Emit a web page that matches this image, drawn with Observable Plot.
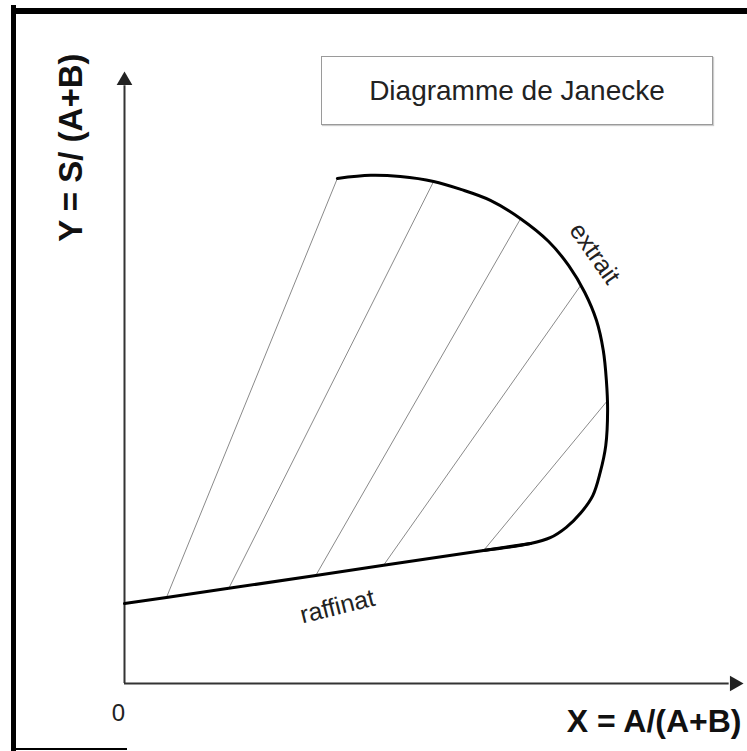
<!DOCTYPE html>
<html>
<head>
<meta charset="utf-8">
<script src="https://cdn.jsdelivr.net/npm/d3@7"></script>
<script src="https://cdn.jsdelivr.net/npm/@observablehq/plot@0.6"></script>
<style>
  html, body { margin: 0; padding: 0; background: #fff; }
  #wrap { position: relative; width: 747px; height: 751px; overflow: hidden; font-family: "Liberation Sans", Arial, sans-serif; }
  #wrap svg { position: absolute; left: 0; top: 0; }
  .frameL { position: absolute; left: 11px; top: 5px; width: 5px; height: 746px; background: #000; }
  .frameT { position: absolute; left: 11px; top: 8px; width: 736px; height: 6px; background: #000; }
  .frameB { position: absolute; left: 12px; top: 748px; width: 115px; height: 2px; background: #000; }
  .titlebox { position: absolute; left: 321px; top: 56px; width: 390px; height: 67px; border: 1.5px solid #9a9a9a;
              box-shadow: 1px 1px 1px #ccc; display: flex; align-items: center; justify-content: center;
              font-size: 28px; color: #222; }
</style>
</head>
<body>
<div id="wrap">
  <div class="frameL"></div>
  <div class="frameT"></div>
  <div class="frameB"></div>
  <div class="titlebox">Diagramme de Janecke</div>
</div>
<script>
// Raffinat branch (straight line), X = A/(A+B), Y = S/(A+B)
const raffinatX = [0, 0.068, 0.169, 0.310, 0.420, 0.582, 0.658];
const raffinatY = [0.131, 0.141, 0.156, 0.177, 0.194, 0.218, 0.2295];

// Curved envelope joining raffinat to extrait
const envelopeX = [0.420, 0.582, 0.658, 0.690, 0.716, 0.739, 0.759, 0.771, 0.780, 0.783, 0.781, 0.776, 0.765, 0.746, 0.720, 0.687, 0.642, 0.593, 0.545, 0.501, 0.447, 0.399, 0.345];
const envelopeY = [0.194, 0.218, 0.2295, 0.239, 0.256, 0.279, 0.308, 0.346, 0.390, 0.448, 0.497, 0.546, 0.595, 0.641, 0.685, 0.725, 0.762, 0.792, 0.810, 0.823, 0.831, 0.833, 0.828];

// Tie lines: raffinat end (x1,y1) -> extrait end (x2,y2)
const tieX1 = [0.068, 0.169, 0.310, 0.420, 0.582];
const tieY1 = [0.141, 0.156, 0.177, 0.194, 0.218];
const tieX2 = [0.345, 0.501, 0.642, 0.739, 0.783];
const tieY2 = [0.828, 0.823, 0.762, 0.652, 0.464];

// Curve labels
const labelText = ["extrait", "raffinat"];
const labelX = [0.762, 0.345];
const labelY = [0.705, 0.126];
const labelAngle = [55, -14];

const raffinat = raffinatX.map((x, i) => ({x, y: raffinatY[i]}));
const envelope = envelopeX.map((x, i) => ({x, y: envelopeY[i]}));
const ties = tieX1.map((x1, i) => ({x1, y1: tieY1[i], x2: tieX2[i], y2: tieY2[i]}));

const chart = Plot.plot({
  width: 747,
  height: 751,
  margin: 0,
  x: {domain: [0, 1], range: [124, 741], axis: null},
  y: {domain: [0, 1], range: [683, 73], axis: null},
  style: {background: "transparent", fontFamily: "Liberation Sans, Arial, sans-serif"},
  marks: [
    // axes
    Plot.ruleX([0], {y1: 0, y2: 0.98, stroke: "#333", strokeWidth: 2}),
    Plot.ruleY([0], {x1: 0, x2: 0.98, stroke: "#333", strokeWidth: 2}),
    Plot.dot([{x: 0, y: 1}], {x: "x", y: "y", symbol: "triangle2", r: 7.5, fill: "#222", stroke: "none", dy: 7}),
    Plot.dot([{x: 1, y: 0}], {x: "x", y: "y", symbol: "triangle2", r: 7.5, fill: "#222", stroke: "none", dx: -7, rotate: 90}),
    // tie lines
    Plot.link(ties, {x1: "x1", y1: "y1", x2: "x2", y2: "y2", stroke: "#8a8a8a", strokeWidth: 1}),
    // binodal curve
    Plot.line(raffinat, {x: "x", y: "y", stroke: "#000", strokeWidth: 3, curve: "linear"}),
    Plot.line(envelope.slice(1), {x: "x", y: "y", stroke: "#000", strokeWidth: 3, curve: "catmull-rom"}),
    // curve labels
    Plot.text([0], {x: labelX[0], y: labelY[0], text: [labelText[0]], rotate: labelAngle[0], fontSize: 25, fill: "#222"}),
    Plot.text([0], {x: labelX[1], y: labelY[1], text: [labelText[1]], rotate: labelAngle[1], fontSize: 25, fill: "#222"}),
    // origin and axis titles
    Plot.text(["0"], {x: 0, y: 0, text: d => d, dx: -6, dy: 30, fontSize: 24, fill: "#222"}),
    Plot.text(["X = A/(A+B)"], {x: 1, y: 0, text: d => d, textAnchor: "end", dy: 38, fontSize: 32, fontWeight: "bold", fill: "#111"}),
    Plot.text(["Y = S/ (A+B)"], {x: 0, y: 1, text: d => d, rotate: -90, textAnchor: "end", dx: -53, dy: -20, fontSize: 33, fontWeight: "bold", fill: "#111"})
  ]
});
document.getElementById("wrap").insertBefore(chart, document.getElementById("wrap").firstChild);
</script>
</body>
</html>
